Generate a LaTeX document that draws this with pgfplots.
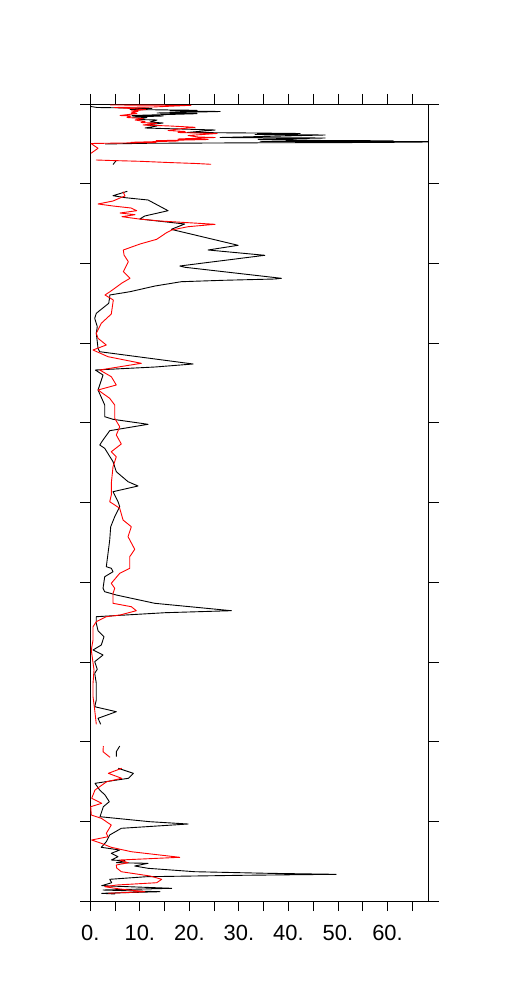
\documentclass[border=0pt]{standalone}
\usepackage{pgfplots}
\pgfplotsset{compat=1.18}
\usepackage{fontspec}
\setmainfont{Liberation Sans}
\begin{document}
\begin{tikzpicture}
\begin{axis}[name=ax, scale only axis, width=338.3bp, height=797bp,
 xmin=0, xmax=68.3, ymin=104, ymax=901, y dir=reverse,
 axis line style={line width=0.8bp},
 xtick={0,5,...,65},
 xticklabels={{0.},{},{10.},{},{20.},{},{30.},{},{40.},{},{50.},{},{60.},{}},
 ytick={104,183.7,263.4,343.1,422.8,502.5,582.2,661.9,741.6,821.3,901},
 yticklabels={},
 tick align=outside, major tick length=10bp,
 tick style={black, line width=0.8bp},
 /pgf/number format/assume math mode=true,
 ticklabel style={font=\fontsize{22}{26}\selectfont},
 xticklabel style={yshift=-11bp},
 every axis plot/.append style={line width=0.9bp, line join=round, no markers},
 clip=true]
% black series
\addplot[black] coordinates {(0.14,106.5)(1.35,107.5)(12.46,108.3)(8.02,109.5)(21.56,110.3)(16.10,111)(26.20,111.5)(13.47,113)(21.56,113.7)(8.42,115.5)(14.69,116)(8.42,117)(11.45,117.5)(9.43,119.5)(13.47,120)(12.06,122)(14.69,123)(11.45,125)(13.47,126)(11.05,128)(25.19,130)(19.54,132.5)(32.67,133)(42.36,133.5)(33.27,134.5)(47.41,135)(26.20,137.5)(47.41,138)(33.88,139.3)(47.01,140.5)(61.15,140.8)(34.28,141.3)(75,141.7)(56.91,142.5)(33.88,142.8)(11.45,143.3)(2.97,144)};
\addplot[black] coordinates {(5.25,160.5)(4.59,164.5)};
\addplot[black] coordinates {(7.47,191.3)(4.59,195.7)(7.07,197.7)(11.66,200)(15.70,210.7)(10.99,216)(9.98,219)(19.07,224)(16.36,229.3)(17.31,230.5)(29.84,245.3)(23.78,250)(35.23,255.3)(18.06,266)(19.13,267.3)(38.59,278.3)(37.31,279)(26.81,280.3)(18.38,281.7)(13.07,286)(8.02,291.7)(3.92,295)(3.92,296.7)(3.72,303.3)(1.21,313.3)(0.89,318.3)(1.41,326.7)(1.21,333.3)(1.56,348.3)(1.90,351.7)(20.75,364)(13.07,367)(1.01,370)(2.57,375)(1.56,390)(2.91,405)(2.91,416.7)(4.59,419.3)(11.66,424.3)(3.92,430.7)(2.57,440)(1.90,445)(2.91,448.3)(4.59,461.7)(5.25,471.7)(7.62,481.7)(9.64,486)(4.59,491.7)(5.60,501.7)(5.94,506.7)(4.93,516.7)(4.12,526.7)(3.92,540)(3.58,553.3)(3.23,566.7)(4.24,568.3)(4.59,571.7)(2.91,576.7)(2.57,588.3)(2.91,591.7)(5.25,595)(13.01,603.3)(28.48,610.7)(15.09,612.7)(1.21,616.7)(1.21,623.3)(1.56,630.7)(2.77,636.7)(2.22,645)(0.55,650)(2.57,655)(0.89,661.7)(1.41,669.3)(0.89,673.3)(1.21,683.3)(1.21,700)(0.89,706.7)(5.25,711.7)(1.56,718.3)(2.10,724.3)};
\addplot[black] coordinates {(5.94,746)(5.25,751.7)(5.25,756.7)};
\addplot[black] coordinates {(5.66,768.3)(8.69,773.3)(7.68,778.3)(0.95,783.3)(1.90,790)(2.97,795)(3.84,801.7)(2.63,806.7)(1.96,816.7)(12.06,821.7)(19.74,824)(6.26,828.3)(3.92,835)(3.23,841.7)(2.22,847.3)(5.94,850)(4.24,853.3)(5.60,856.7)(4.24,860)(7.01,860.7)(5.25,862.7)(11.66,863.3)(8.97,866)(11.66,868.3)(21.09,871.7)(35.90,873.3)(49.63,874.3)(30.51,875.3)(11.31,876.7)(3.92,879.3)(4.32,882.7)(2.30,885.7)(16.44,888.3)(2.57,890)(14.08,891.7)(2.30,893.3)(4.99,894)};
% red series
\addplot[red] coordinates {(3.98,105)(20.34,105.3)(12.67,107)(4.79,107.5)(8.22,108.5)(11.25,109.5)(8.22,111)(9.64,111.3)(8.22,113)(9.43,113.5)(6.00,115.5)(8.22,116)(7.41,117.5)(10.65,118.5)(9.03,120)(11.05,121.5)(10.24,122.5)(13.47,123.3)(10.65,125)(16.10,126)(21.15,127.3)(17.72,129)(15.70,130.5)(19.13,131.5)(17.72,132.5)(25.60,133.5)(19.74,135.5)(21.76,137)(25.19,137.5)(17.72,139)(23.78,139.5)(13.27,140.7)(17.72,141)(8.22,142.3)(13.27,142.5)(0.14,143.5)(1.56,148.3)(0.14,153.3)};
\addplot[red] coordinates {(1.15,160)(4.18,160.5)(10.04,161.3)(15.70,162.5)(21.35,163.5)(24.38,164.3)};
\addplot[red] coordinates {(6.61,191.7)(7.01,196)(6.00,198)(4.59,201)(1.56,204)(4.59,206)(8.22,208)(9.37,210.7)(6.00,213)(9.03,214.7)(6.40,216.7)(9.84,219)(14.08,221)(25.19,224.3)(19.74,226.7)(16.44,230)(15.29,233)(13.41,239.3)(10.04,244)(6.67,250)(6.81,255)(7.68,261.7)(6.67,271.7)(8.02,278.3)(6.40,283)(3.98,291.7)(2.97,295)(4.65,300)(4.24,314)(2.22,323.3)(1.21,333.3)(1.56,338.3)(3.23,345)(0.55,350)(3.58,356.7)(10.30,363.3)(1.90,370)(4.24,376.7)(5.25,385)(1.56,390)(3.92,398.3)(4.93,405)(4.93,418.3)(5.94,426.7)(5.25,435)(6.26,444)(4.24,451.7)(5.25,456.7)(4.59,466.7)(4.24,483.3)(4.24,495)(3.92,501.7)(5.94,508.3)(6.61,520)(8.28,526.7)(7.62,536.7)(8.97,549.3)(7.96,556.7)(7.96,568.3)(5.94,573.3)(4.24,583.3)(4.93,588.3)(4.59,593.3)(4.59,603.3)(8.28,606.7)(9.29,610.7)(6.00,615)(3.23,616.7)(1.21,621.7)(0.55,626.7)(0.55,640)(0.20,650)(0.75,670)(0.55,683.3)(0.55,696.7)(0.89,710)(1.21,724.3)};
\addplot[red] coordinates {(2.63,746)(2.57,751.7)(3.98,757.3)};
\addplot[red] coordinates {(6.34,768.3)(3.64,773.3)(6.34,778.3)(3.31,781.7)(0.95,790)(0.28,798.3)(2.30,803.3)(0.08,806.7)(0.20,815)(2.22,818.3)(4.24,825)(3.23,833.3)(3.58,836.7)(0.28,840)(2.22,843.3)(4.24,847.3)(8.28,851.7)(18.06,857.3)(5.94,860)(7.62,862.7)(5.25,865)(5.33,868)(6.26,871.7)(12.06,876)(14.42,879.3)(13.41,882.7)(5.33,885)(2.91,886.7)(6.00,889)(11.05,891.7)(3.64,893.3)};
\end{axis}
\pgfresetboundingbox
\path[use as bounding box] ([xshift=-90.3bp,yshift=-107bp]ax.south west) rectangle ([xshift=75.7bp,yshift=104bp]ax.north east);
\end{tikzpicture}
\end{document}
